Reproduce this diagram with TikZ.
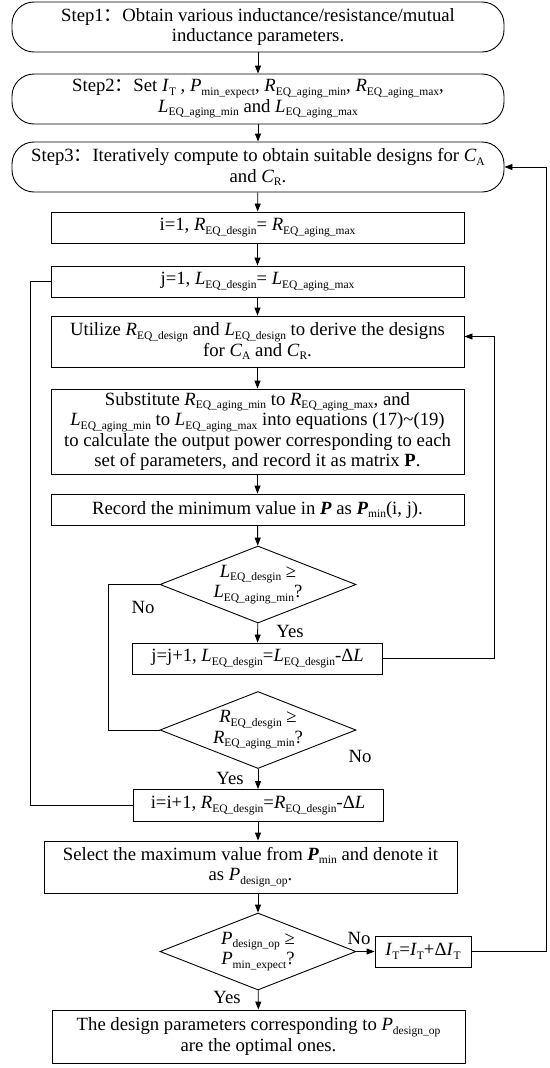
\documentclass[tikz,border=0pt]{standalone}
\usepackage{fontspec}
\setmainfont{Liberation Serif}
\newfontfamily\cjk{Noto Sans CJK SC}
\usetikzlibrary{shapes.geometric,arrows.meta}

\newcommand{\vsub}[2]{\textit{#1}\raisebox{-3.5pt}{\fontsize{11.5}{12}\selectfont #2}}
\newcommand{\bsub}[2]{\textbf{\textit{#1}}\raisebox{-3.5pt}{\fontsize{11.5}{12}\selectfont #2}}
\newcommand{\zhcolon}{{\cjk ：}}

\begin{document}
\begin{tikzpicture}
  [x=1pt, y=-1pt, line width=0.9pt,
   every node/.style = {font=\fontsize{18.7}{20.5}\selectfont},
   stepbox/.style = {draw, rounded corners=22pt, align=center, inner sep=0pt,
                     minimum width=492pt, minimum height=50pt},
   procbox/.style = {draw, align=center, inner sep=0pt, minimum height=31pt},
   decision/.style = {draw, diamond, aspect=2.55, inner sep=0pt, align=center,
                      minimum width=196pt, minimum height=77pt},
   flow/.style = {-{Triangle[length=8pt,width=6pt]}}]

\useasboundingbox (0,0) rectangle (549,1068);

% Steps
\node[stepbox] (s1) at (258,27)
  {Step1\zhcolon Obtain various inductance/resistance/mutual\\inductance parameters.};
\node[stepbox] (s2) at (258,99)
  {Step2\zhcolon Set \vsub{I}{T} , \vsub{P}{min\_expect}, \vsub{R}{EQ\_aging\_min}, \vsub{R}{EQ\_aging\_max},\\
   \vsub{L}{EQ\_aging\_min} and \vsub{L}{EQ\_aging\_max}};
\node[stepbox] (s3) at (258,167)
  {Step3\zhcolon Iteratively compute to obtain suitable designs for \vsub{C}{A}\\and \vsub{C}{R}.};

% Inner loop
\node[procbox, minimum width=413pt] (i1) at (257.5,227.5)
  {i=1, \vsub{R}{EQ\_desgin}= \vsub{R}{EQ\_aging\_max}};
\node[procbox, minimum width=413pt] (j1) at (257.5,281.5)
  {j=1, \vsub{L}{EQ\_desgin}= \vsub{L}{EQ\_aging\_max}};
\node[procbox, minimum width=413pt, minimum height=51pt] (util) at (257.5,341.5)
  {Utilize \vsub{R}{EQ\_design} and \vsub{L}{EQ\_design} to derive the designs\\
   for \vsub{C}{A} and \vsub{C}{R}.};
\node[procbox, minimum width=413pt, minimum height=85pt] (subst) at (257.5,431.5)
  {Substitute \vsub{R}{EQ\_aging\_min} to \vsub{R}{EQ\_aging\_max}, and\\
   \vsub{L}{EQ\_aging\_min} to \vsub{L}{EQ\_aging\_max} into equations (17)\textasciitilde(19)\\
   to calculate the output power corresponding to each\\
   set of parameters, and record it as matrix \textbf{P}.};
\node[procbox, minimum width=413pt] (rec) at (257.5,509.5)
  {Record the minimum value in \textbf{\textit{P}} as \bsub{P}{min}(i, j).};
\node[decision] (dec1) at (258,584.5)
  {\vsub{L}{EQ\_desgin} ≥\\\vsub{L}{EQ\_aging\_min}?};
\node[procbox, minimum width=250pt] (jinc) at (257.5,658.5)
  {j=j+1, \vsub{L}{EQ\_desgin}=\vsub{L}{EQ\_desgin}-Δ\textit{L}};
\node[decision] (dec2) at (258,730)
  {\vsub{R}{EQ\_desgin} ≥\\\vsub{R}{EQ\_aging\_min}?};
\node[procbox, minimum width=250pt, minimum height=32pt] (iinc) at (258,805.5)
  {i=i+1, \vsub{R}{EQ\_desgin}=\vsub{R}{EQ\_desgin}-Δ\textit{L}};

% Outer check
\node[procbox, minimum width=413pt, minimum height=52pt] (sel) at (250.5,867)
  {Select the maximum value from \bsub{P}{min} and denote it\\
   as \vsub{P}{design\_op}.};
\node[decision] (dec3) at (258,951.5)
  {\vsub{P}{design\_op} ≥\\\vsub{P}{min\_expect}?};
\node[procbox, minimum width=96pt] (it) at (423,951.5)
  {\vsub{I}{T}=\vsub{I}{T}+Δ\vsub{I}{T}};
\node[procbox, minimum width=413pt, minimum height=53pt] (fin) at (258.5,1036.5)
  {The design parameters corresponding to \vsub{P}{design\_op}\\
   are the optimal ones.};

% Labels
\node (no1) at (143,607) {No};
\node (yes1) at (290,631) {Yes};
\node (no2) at (360,756) {No};
\node (yes2) at (230,778) {Yes};
\node (no3) at (359,938) {No};
\node (yes3) at (227,997) {Yes};

% Loop rails
\coordinate (lx) at (30,0);
\coordinate (nx) at (108,0);
\coordinate (rj) at (494,0);
\coordinate (rx) at (546,0);

% Main flow
\draw[flow] (s1) -- (s2);
\draw[flow] (s2) -- (s3);
\draw[flow] (s3) -- (i1);
\draw[flow] (i1) -- (j1);
\draw[flow] (j1) -- (util);
\draw[flow] (util) -- (subst);
\draw[flow] (subst) -- (rec);
\draw[flow] (rec) -- (dec1);
\draw[flow] (dec1) -- (jinc);
\draw[flow] (dec2) -- (iinc);
\draw[flow] (iinc.south) -- (iinc.south |- sel.north);
\draw[flow] (sel.south -| dec3.north) -- (dec3.north);
\draw[flow] (dec3) -- (fin);
\draw[flow] (dec3) -- (it);

% Loops
\draw (dec1.west) -- (dec1.west -| nx) -- (dec2.west -| nx) -- (dec2.west);
\draw[flow] (jinc.east) -| ([yshift=5pt]util.east -| rj) -- ([yshift=5pt]util.east);
\draw (iinc.west) -- (iinc.west -| lx) -- (j1.west -| lx) -- (j1.west);
\draw[flow] (it.east) -| (s3.east -| rx) -- (s3.east);

\end{tikzpicture}
\end{document}
